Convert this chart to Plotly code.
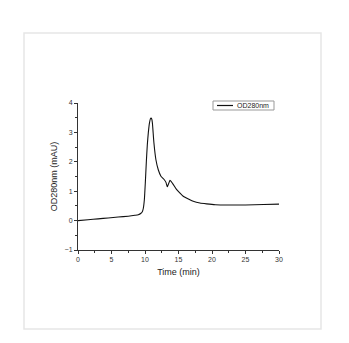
import plotly.graph_objects as go

time_min = [0, 1.5, 3.0, 4.5, 6.0, 7.5, 8.5, 9.0, 9.4, 9.6, 9.75, 9.9, 10.05, 10.2, 10.35, 10.5,
            10.65, 10.8, 10.9, 11.0, 11.1, 11.33, 11.63, 11.98, 12.38, 12.88, 13.13, 13.33,
            13.53, 13.73, 14.13, 14.7, 15.25, 15.7, 16.7, 17.2, 18.2, 19.2, 20.5, 22.7,
            25.0, 27.7, 30.0]
od280 = [0.0, 0.03, 0.06, 0.09, 0.12, 0.15, 0.18, 0.2, 0.25, 0.3, 0.42, 0.7, 1.3, 2.0, 2.6, 3.0,
         3.3, 3.46, 3.49, 3.46, 3.33, 2.65, 2.07, 1.73, 1.51, 1.39, 1.30, 1.15,
         1.26, 1.37, 1.26, 1.06, 0.93, 0.83, 0.71, 0.66, 0.60, 0.57, 0.54, 0.53,
         0.53, 0.55, 0.56]

legend_label = "OD280nm"
FONT = "Liberation Sans, Arial, sans-serif"

fig = go.Figure()
fig.add_trace(go.Scatter(x=time_min, y=od280, mode="lines", name=legend_label, showlegend=False,
                         line=dict(color="#111111", width=1.1, shape="spline", smoothing=0.5)))

L, R, T, B = 78, 70, 103, 93
W, H = 349, 343
pw, ph = W - L - R, H - T - B

def px(xp):
    return (xp - L) / pw

def py(yp):
    return (H - B - yp) / ph

fig.update_layout(
    width=W, height=H,
    margin=dict(l=L, r=R, t=T, b=B),
    paper_bgcolor="white", plot_bgcolor="white",
    font=dict(family=FONT, color="#333333", size=7),
    showlegend=False,
    shapes=[
        dict(type="rect", xref="paper", yref="paper",
             x0=px(24), x1=px(321), y0=py(329), y1=py(33),
             line=dict(color="#e6e6e6", width=1.5), fillcolor="rgba(0,0,0,0)", layer="below"),
        dict(type="rect", xref="paper", yref="paper",
             x0=px(213), x1=px(274), y0=py(110), y1=py(101),
             line=dict(color="#999999", width=1), fillcolor="white"),
        dict(type="line", xref="paper", yref="paper",
             x0=px(217), x1=px(233), y0=py(105.5), y1=py(105.5),
             line=dict(color="#111111", width=1.2)),
    ],
    annotations=[dict(text=legend_label, xref="paper", yref="paper", x=px(235), y=py(105.5),
                      xanchor="left", yanchor="middle", showarrow=False,
                      font=dict(size=7, family=FONT, color="#222222"))],
)
fig.update_xaxes(range=[0, 30], dtick=5, tick0=0, ticks="outside", ticklen=3, tickwidth=1,
                 tickcolor="#333333", showline=True, linecolor="#333333", linewidth=1,
                 showgrid=False, zeroline=False,
                 minor=dict(dtick=2.5, ticks="outside", ticklen=2, tickcolor="#333333"),
                 title=dict(text="Time (min)", font=dict(size=9, family=FONT, color="#222222"), standoff=6),
                 tickfont=dict(size=7, family=FONT, color="#333333"))
fig.update_yaxes(range=[-1, 4], dtick=1, tick0=0, ticks="outside", ticklen=3, tickwidth=1,
                 tickcolor="#333333", showline=True, linecolor="#333333", linewidth=1,
                 showgrid=False, zeroline=False,
                 minor=dict(dtick=0.5, ticks="outside", ticklen=2, tickcolor="#333333"),
                 title=dict(text="OD280nm (mAU)", font=dict(size=9, family=FONT, color="#222222"), standoff=5),
                 tickfont=dict(size=7, family=FONT, color="#333333"))

fig.write_html("out.html")
